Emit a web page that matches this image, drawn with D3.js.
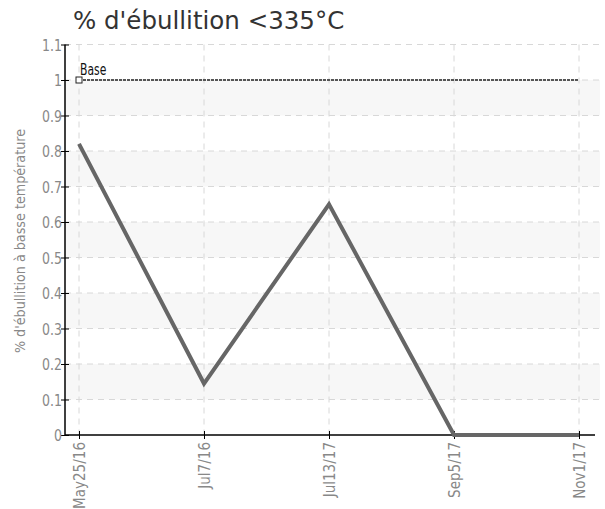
<!DOCTYPE html>
<html><head><meta charset="utf-8">
<script src="https://cdn.jsdelivr.net/npm/d3@7"></script>
<style>body{margin:0;background:#fff}svg{display:block}</style>
</head><body>
<svg id="c" width="605" height="509"></svg>
<script>
const categories = ["May25/16","Jul7/16","Jul13/17","Sep5/17","Nov1/17"];
const values = [0.82, 0.145, 0.65, 0, 0];
const baseValue = 1;
const yTicks = [0,0.1,0.2,0.3,0.4,0.5,0.6,0.7,0.8,0.9,1,1.1];
const title = "% d'ébullition <335°C";
const yTitle = "% d'ébullition à basse température";

const svg = d3.select("#c");
const L = 65, R = 600, T = 44.5, B = 435;
const tickFont = "'DejaVu Sans',sans-serif";
function squeeze(sel, k) {
  sel.each(function () {
    const w = this.getComputedTextLength();
    d3.select(this).attr("textLength", w * k).attr("lengthAdjust", "spacingAndGlyphs");
  });
}

const x = d3.scalePoint().domain(categories).range([79, 579]);
const y = d3.scaleLinear().domain([0, 1.1]).range([B, T]);

// bands
for (let i = 1; i < yTicks.length - 1; i += 2) {
  svg.append("rect").attr("x", L).attr("width", R - L)
    .attr("y", y(yTicks[i + 1])).attr("height", y(yTicks[i]) - y(yTicks[i + 1]))
    .attr("fill", "#f7f7f7");
}
// horizontal grid
svg.selectAll(".hg").data(yTicks.filter(d => d > 0)).enter().append("line")
  .attr("x1", L).attr("x2", R).attr("y1", d => y(d)).attr("y2", d => y(d))
  .attr("stroke", "#d8d8d8").attr("stroke-dasharray", "6,5");
// vertical grid
svg.selectAll(".vg").data(categories).enter().append("line")
  .attr("x1", d => x(d)).attr("x2", d => x(d)).attr("y1", T).attr("y2", B)
  .attr("stroke", "#d8d8d8").attr("stroke-dasharray", "6,5");

// y axis
const ya = svg.append("g").attr("transform", `translate(${L},0)`)
  .call(d3.axisLeft(y).tickValues(yTicks).tickFormat(d => d3.format("")(+d.toFixed(1))).tickSizeInner(3).tickSizeOuter(0).tickPadding(0));
ya.select(".domain").attr("stroke", "#000").attr("stroke-width", 1.5).attr("d", `M0,${T}V${B}`);
ya.selectAll(".tick line").attr("x1", -4).attr("x2", 4).attr("stroke", "#000");
ya.selectAll(".tick text").attr("font-family", tickFont).attr("font-size", 16.5).attr("fill", "#888").attr("dy", "0.36em").call(squeeze, 0.76);

// x axis
const xa = svg.append("g").attr("transform", `translate(0,${B})`)
  .call(d3.axisBottom(x).tickSizeInner(4).tickSizeOuter(0));
xa.select(".domain").attr("stroke", "#000").attr("stroke-width", 1.5).attr("d", `M${L},0H${595}`);
xa.selectAll(".tick line").attr("y1", -4).attr("y2", 4).attr("stroke", "#000");
xa.selectAll(".tick text").attr("font-family", tickFont).attr("font-size", 16.5).attr("fill", "#888")
  .attr("transform", "rotate(-90)").attr("text-anchor", "end").attr("x", -7).attr("y", 0).attr("dy", "0.36em").call(squeeze, 0.82);

// base line
svg.append("line").attr("x1", x(categories[0])).attr("x2", x(categories[categories.length - 1]))
  .attr("y1", y(baseValue)).attr("y2", y(baseValue))
  .attr("stroke", "#555").attr("stroke-width", 2).attr("stroke-dasharray", "3,1");
svg.append("rect").attr("x", x(categories[0]) - 3).attr("y", y(baseValue) - 3)
  .attr("width", 6).attr("height", 6).attr("fill", "#fff").attr("stroke", "#222");
svg.append("text").attr("x", x(categories[0]) + 1).attr("y", y(baseValue) - 5)
  .attr("font-family", tickFont).attr("font-size", 15).attr("fill", "#111").text("Base").call(squeeze, 0.72);

// data line
svg.append("path").datum(values.map((v, i) => [categories[i], v]))
  .attr("d", d3.line().x(d => x(d[0])).y(d => y(d[1])))
  .attr("fill", "none").attr("stroke", "#666").attr("stroke-width", 4)
  .attr("stroke-linejoin", "miter");

// titles
svg.append("text").attr("x", 73).attr("y", 29).attr("font-family", "'DejaVu Sans',sans-serif")
  .attr("font-size", 24.5).attr("fill", "#333").text(title);
svg.append("text").attr("transform", `translate(25,${241}) rotate(-90)`).attr("text-anchor", "middle")
  .attr("font-family", tickFont).attr("font-size", 14.5).attr("fill", "#888").text(yTitle).call(squeeze, 0.88);
</script>
</body></html>
